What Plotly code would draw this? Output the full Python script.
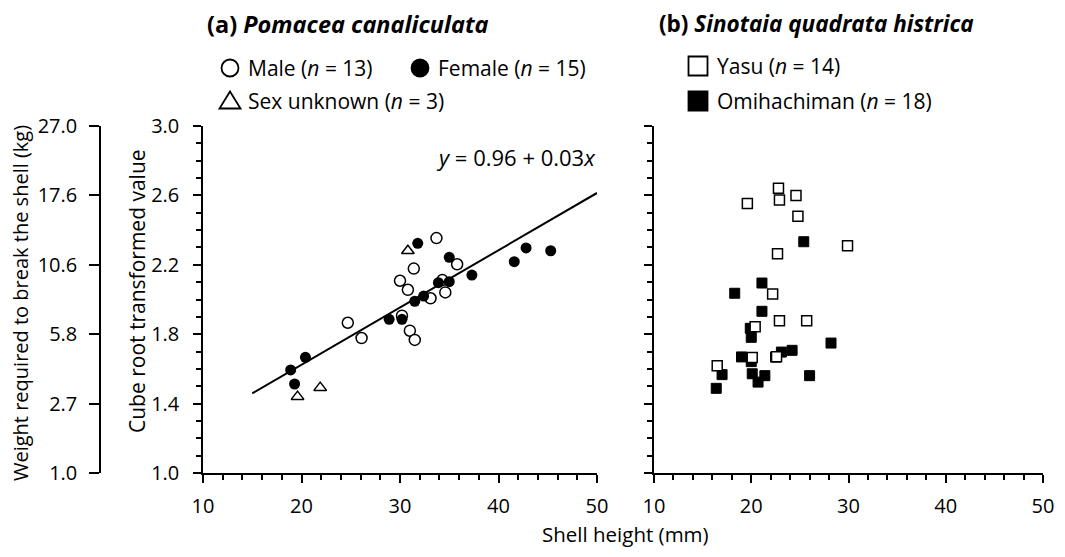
import plotly.graph_objects as go

# ---------------- data (panel a: Pomacea canaliculata) ----------------
male_x = [33.7, 35.8, 31.4, 30.0, 30.8, 33.1, 34.6, 34.3, 24.7, 26.1, 30.2, 31.0, 31.5]
male_y = [2.354, 2.203, 2.178, 2.108, 2.056, 2.007, 2.041, 2.112, 1.866, 1.778, 1.907, 1.820, 1.767]

female_x = [31.8, 35.0, 33.9, 35.0, 37.3, 41.6, 42.8, 45.3, 32.4, 31.5, 28.9, 30.2, 20.4, 18.9, 19.3]
female_y = [2.324, 2.243, 2.097, 2.103, 2.141, 2.218, 2.297, 2.281, 2.020, 1.990, 1.886, 1.886, 1.667, 1.594, 1.513]

unknown_x = [30.8, 19.6, 21.9]
unknown_y = [2.281, 1.440, 1.492]

fit_x = [15, 50]
fit_intercept = 0.964
fit_slope = 0.033

# ---------------- data (panel b: Sinotaia quadrata histrica) ----------------
yasu_x = [22.8, 24.6, 22.9, 19.6, 24.8, 29.9, 22.7, 22.2, 22.9, 25.7, 20.4, 20.1, 22.6, 16.5]
yasu_y = [2.641, 2.600, 2.573, 2.554, 2.480, 2.310, 2.264, 2.032, 1.878, 1.878, 1.843, 1.665, 1.670, 1.618]

omi_x = [25.4, 21.1, 18.3, 21.1, 19.9, 20.0, 28.2, 24.2, 23.1, 19.0, 20.0, 17.0, 20.1, 21.4, 26.0, 20.7, 16.4, 22.5]
omi_y = [2.333, 2.095, 2.036, 1.932, 1.834, 1.782, 1.749, 1.707, 1.697, 1.669, 1.642, 1.567, 1.572, 1.561, 1.561, 1.524, 1.488, 1.668]

# tick labels
cube_ticks = [1.0, 1.4, 1.8, 2.2, 2.6, 3.0]
weight_labels = ["1.0", "2.7", "5.8", "10.6", "17.6", "27.0"]

# ---------------- layout geometry ----------------
# page body adds an 8px offset; targets below are in screen pixels
OFF = 8
W, H = 1049, 541
PL, PR, PT, PB = 80, 1043, 126, 473          # plot area in screen pixels
L, T = PL - OFF, PT - OFF
R = W - (PR - OFF)
B = H - (PB - OFF)
PW = PR - PL
PH = PB - PT
FONT = "Open Sans"


def fx(x):
    return (x - PL) / PW


def fy(y):
    return (PB - y) / PH


fig = go.Figure()

open_line = dict(color="black", width=1.5)

fig.add_trace(go.Scatter(x=male_x, y=male_y, mode="markers", xaxis="x", yaxis="y",
                         marker=dict(symbol="circle", size=11, color="white", line=open_line),
                         showlegend=False))
fig.add_trace(go.Scatter(x=unknown_x, y=unknown_y, mode="markers", xaxis="x", yaxis="y",
                         marker=dict(symbol="triangle-up", size=11, color="white", line=open_line),
                         showlegend=False))
fig.add_trace(go.Scatter(x=female_x, y=female_y, mode="markers", xaxis="x", yaxis="y",
                         marker=dict(symbol="circle", size=11, color="black", line=dict(width=0)),
                         showlegend=False))
fig.add_trace(go.Scatter(x=fit_x, y=[fit_intercept + fit_slope * v for v in fit_x], mode="lines",
                         xaxis="x", yaxis="y", line=dict(color="black", width=2), showlegend=False))

fig.add_trace(go.Scatter(x=omi_x, y=omi_y, mode="markers", xaxis="x2", yaxis="y2",
                         marker=dict(symbol="square", size=10, color="black", line=dict(color="black", width=1)),
                         showlegend=False))
fig.add_trace(go.Scatter(x=yasu_x, y=yasu_y, mode="markers", xaxis="x2", yaxis="y2",
                         marker=dict(symbol="square", size=10, color="white", line=open_line),
                         showlegend=False))
# dummy trace so the outer axis is drawn
fig.add_trace(go.Scatter(x=[None], y=[None], xaxis="x", yaxis="y3", showlegend=False))

tickfont = dict(family=FONT, size=20, color="black")

xcommon = dict(range=[10, 50], tick0=10, dtick=10, ticks="outside", ticklen=8, tickwidth=1.5,
               showline=True, linewidth=1.5, linecolor="black", showgrid=False, zeroline=False,
               tickfont=tickfont, tickcolor="black", ticklabelstandoff=6,
               minor=dict(ticks="outside", ticklen=5, dtick=2, tickwidth=1.5, tickcolor="black"))
ycommon = dict(range=[1, 3], tick0=1, dtick=0.4, ticks="outside", ticklen=8, tickwidth=1.5,
               showline=True, linewidth=1.5, linecolor="black", showgrid=False, zeroline=False,
               tickfont=tickfont, tickcolor="black", tickformat=".1f", ticklabelstandoff=10,
               minor=dict(ticks="outside", ticklen=5, dtick=0.1, tickwidth=1.5, tickcolor="black"))

fig.update_layout(
    width=W, height=H,
    margin=dict(l=L, r=R, t=T, b=B, autoexpand=False),
    plot_bgcolor="white", paper_bgcolor="white",
    font=dict(family=FONT, color="black"),
    xaxis=dict(domain=[fx(203), fx(597)], anchor="y", **xcommon),
    xaxis2=dict(domain=[fx(654), 1.0], anchor="y2", **xcommon),
    yaxis=dict(domain=[0, 1], anchor="x", **ycommon),
    yaxis2=dict(domain=[0, 1], anchor="x2", showticklabels=False, **ycommon),
    yaxis3=dict(range=[1, 3], overlaying="y", anchor="free", position=fx(100), side="left",
                tickvals=cube_ticks, ticktext=weight_labels, ticks="outside", ticklen=10,
                tickwidth=1.5, tickcolor="black", showline=True, linewidth=1.5, linecolor="black",
                showgrid=False, zeroline=False, tickfont=tickfont, ticklabelstandoff=8),
)

ann = []


def text(x, y, s, size, xanchor="left", angle=0):
    ann.append(dict(x=fx(x), y=fy(y), xref="paper", yref="paper", text=s, showarrow=False,
                    xanchor=xanchor, yanchor="middle", textangle=angle,
                    font=dict(family=FONT, size=size, color="black")))


text(205, 24, "<b>(a) <i>Pomacea canaliculata</i></b>", 23.5)
text(657, 24, "<b>(b) <i>Sinotaia quadrata histrica</i></b>", 22.5)
text(246, 68, "Male (<i>n</i> = 13)", 21)
text(436, 68, "Female (<i>n</i> = 15)", 21)
text(246, 101, "Sex unknown (<i>n</i> = 3)", 21)
text(715, 66, "Yasu (<i>n</i> = 14)", 21)
text(715, 101, "Omihachiman (<i>n</i> = 18)", 21)
text(598, 157, "<i>y</i> = 0.96 + 0.03<i>x</i>", 22, xanchor="right")
text(625, 534, "Shell height (mm)", 20.5, xanchor="center")
text(20, 303, "Weight required to break the shell (kg)", 20, xanchor="center", angle=-90)
text(137, 291, "Cube root transformed value", 21, xanchor="center", angle=-90)
fig.update_layout(annotations=ann)

# legend symbols (shapes in paper coordinates)
shapes = []
lw = 1.8


def circle(cx, cy, r, filled):
    shapes.append(dict(type="circle", xref="paper", yref="paper",
                       x0=fx(cx - r), x1=fx(cx + r), y0=fy(cy + r), y1=fy(cy - r),
                       line=dict(color="black", width=lw),
                       fillcolor="black" if filled else "white"))


def square(cx, cy, r, filled):
    shapes.append(dict(type="rect", xref="paper", yref="paper",
                       x0=fx(cx - r), x1=fx(cx + r), y0=fy(cy + r), y1=fy(cy - r),
                       line=dict(color="black", width=lw),
                       fillcolor="black" if filled else "white"))


def triangle(cx, cy, w, h):
    pts = [(cx - w / 2, cy + h / 2), (cx + w / 2, cy + h / 2), (cx, cy - h / 2)]
    path = "M " + " L ".join(f"{fx(a)},{fy(b)}" for a, b in pts) + " Z"
    shapes.append(dict(type="path", xref="paper", yref="paper", path=path,
                       line=dict(color="black", width=lw), fillcolor="white"))


circle(230, 68, 8.5, False)
circle(420, 68, 8.5, True)
triangle(230, 100, 21, 17)
square(698, 66, 9.5, False)
square(698, 101, 9.5, True)
fig.update_layout(shapes=shapes)

fig.write_html("out.html")
